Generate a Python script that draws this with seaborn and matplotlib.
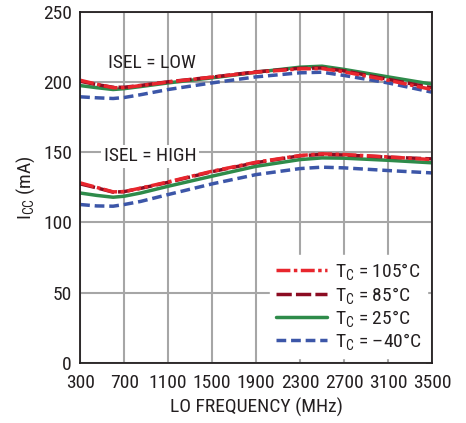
import pandas as pd
import matplotlib
matplotlib.use("Agg")
import matplotlib.pyplot as plt
import seaborn as sns
from matplotlib import font_manager

# LO frequency points (MHz)
freq = [300, 450, 600, 700, 850, 1100, 1500, 1900, 2300, 2500, 2700, 3100, 3500]

# ICC (mA), ISEL = LOW
low_105 = [201.3, 198.5, 196.0, 196.0, 197.5, 200.0, 203.5, 207.0, 209.4, 209.6, 207.3, 201.3, 194.7]
low_85 = [200.6, 198.2, 196.3, 196.3, 197.6, 200.2, 203.5, 207.3, 209.8, 210.0, 208.0, 202.0, 195.9]
low_25 = [197.5, 196.0, 194.7, 195.3, 196.8, 199.4, 203.0, 207.0, 210.6, 211.3, 209.0, 203.7, 198.5]
low_m40 = [189.5, 188.8, 188.3, 189.0, 191.0, 194.7, 199.4, 203.7, 206.6, 207.0, 204.7, 199.4, 192.8]

# ICC (mA), ISEL = HIGH
high_105 = [128.2, 125.0, 121.8, 122.0, 124.5, 128.9, 136.5, 142.9, 147.7, 148.9, 148.4, 146.7, 144.8]
high_85 = [127.5, 124.7, 121.6, 122.0, 124.3, 128.6, 136.2, 142.6, 147.5, 148.5, 148.1, 146.5, 145.3]
high_25 = [121.0, 119.3, 118.0, 118.7, 121.0, 125.8, 133.0, 140.0, 144.8, 146.0, 145.8, 144.3, 142.5]
high_m40 = [112.8, 111.8, 111.6, 112.8, 115.0, 119.9, 127.5, 134.1, 138.4, 139.4, 138.9, 137.0, 135.3]

temps = ["105", "85", "25", "-40"]
legend_labels = [r"T$_\mathregular{C}$ = 105°C", r"T$_\mathregular{C}$ = 85°C",
                 r"T$_\mathregular{C}$ = 25°C", r"T$_\mathregular{C}$ = –40°C"]
colors = {"105": "#e8262d", "85": "#8c0c22", "25": "#2e8b4a", "-40": "#3c56a8"}
dashes = {"105": (4, 1, 1, 1), "85": (4.4, 1.2), "25": "", "-40": (2.8, 1.4)}

rows = []
series = {("LOW", "105"): low_105, ("LOW", "85"): low_85, ("LOW", "25"): low_25, ("LOW", "-40"): low_m40,
          ("HIGH", "105"): high_105, ("HIGH", "85"): high_85, ("HIGH", "25"): high_25, ("HIGH", "-40"): high_m40}
for (isel, t), vals in series.items():
    for f, v in zip(freq, vals):
        rows.append({"freq": f, "icc": v, "temp": t, "isel": isel})
df = pd.DataFrame(rows)

sns.set_theme(style="white")
names = {f.name for f in font_manager.fontManager.ttflist}
fam = "Roboto Condensed" if "Roboto Condensed" in names else "DejaVu Sans"
plt.rcParams["font.family"] = [fam, "DejaVu Sans"]
plt.rcParams["mathtext.fontset"] = "custom"
plt.rcParams["mathtext.rm"] = fam
plt.rcParams["mathtext.it"] = fam

txt_color = "#231f20"
fs = 14

fig = plt.figure(figsize=(4.66, 4.23), dpi=100)
ax = fig.add_axes([0.172, 0.142, 0.755, 0.830])

sns.lineplot(data=df, x="freq", y="icc", hue="temp", style="temp", units="isel",
             estimator=None, palette=colors, dashes=dashes, hue_order=temps[::-1],
             style_order=temps[::-1], linewidth=2.5, ax=ax, legend=False)

ax.set_xlim(300, 3500)
ax.set_ylim(0, 250)
ax.set_xticks(range(300, 3501, 400))
ax.set_yticks(range(0, 251, 50))
ax.grid(True, color="#a6a6a6", linewidth=1.5)
ax.set_axisbelow(True)
for s in ax.spines.values():
    s.set_color(txt_color)
    s.set_linewidth(1.3)
ax.tick_params(axis="both", direction="in", length=4, width=1.2, color="#a6a6a6",
               labelsize=fs, labelcolor=txt_color, top=True, right=True)
ax.tick_params(axis="x", pad=8)
ax.tick_params(axis="y", pad=6)
ax.set_xlabel("LO FREQUENCY (MHz)", fontsize=fs, color=txt_color, labelpad=4)
ax.set_ylabel(r"I$_\mathregular{CC}$ (mA)", fontsize=fs, color=txt_color, labelpad=4)

ax.text(954, 213.7, "ISEL = LOW", fontsize=fs, ha="center", va="center", color=txt_color)
ax.text(936, 147, "ISEL = HIGH", fontsize=fs, ha="center", va="center", color=txt_color,
        bbox=dict(facecolor="white", edgecolor="none", pad=2))

handles = []
for t in temps:
    ln, = ax.plot([], [], color=colors[t], linewidth=2.5)
    if dashes[t]:
        ln.set_dashes(dashes[t])
    handles.append(ln)
leg = ax.legend(handles, legend_labels, loc="lower right", fontsize=fs, frameon=True,
                handlelength=2.6, handletextpad=0.4, labelspacing=0.12,
                borderaxespad=0.25, borderpad=0.3, fancybox=False)
leg.get_frame().set_facecolor("white")
leg.get_frame().set_edgecolor("white")
leg.get_frame().set_alpha(1)
for t in leg.get_texts():
    t.set_color(txt_color)

fig.savefig("out.png", dpi=100)
